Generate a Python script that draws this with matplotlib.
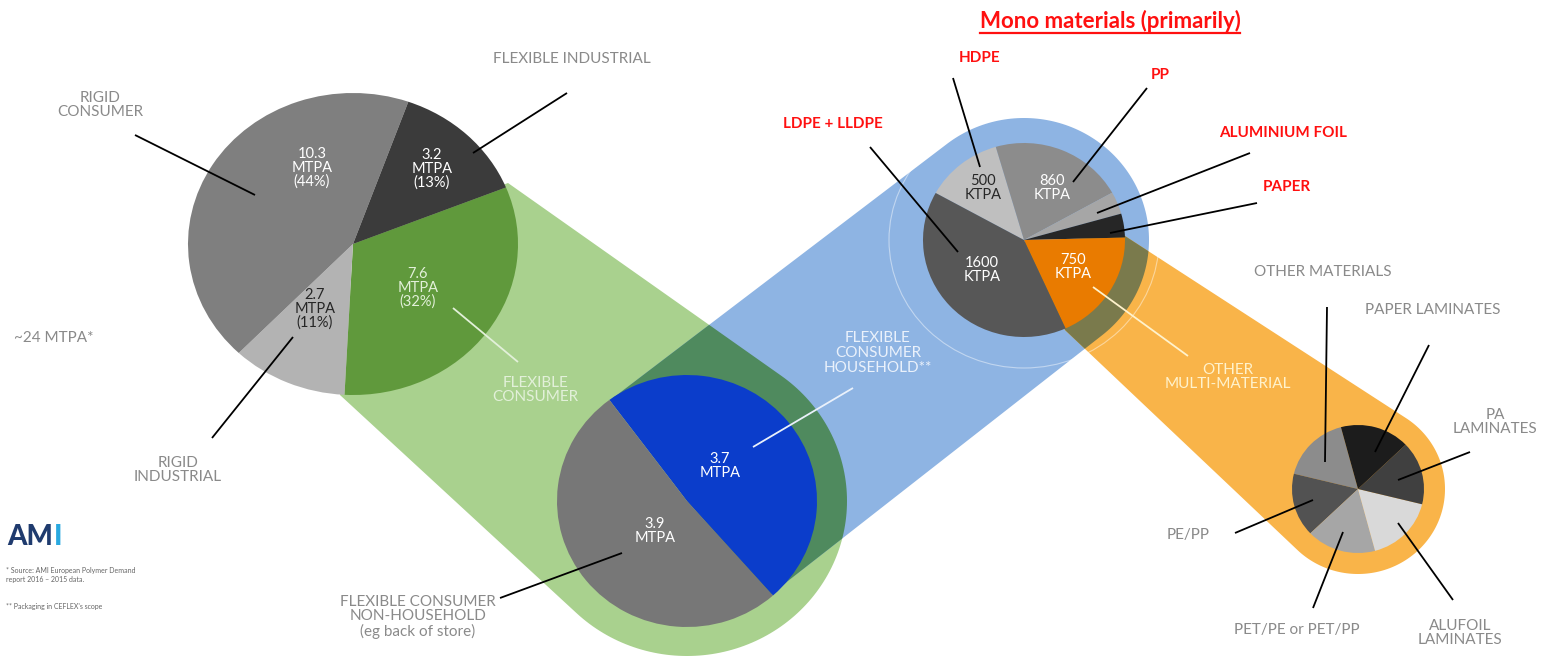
import numpy as np
import matplotlib.pyplot as plt
from matplotlib.patches import Polygon, Ellipse

plt.rcParams['font.family'] = ['Lato', 'DejaVu Sans']

W, H = 1542, 658

# --- data ---
main_names = ['FLEXIBLE\nCONSUMER', 'RIGID\nINDUSTRIAL', 'RIGID\nCONSUMER', 'FLEXIBLE INDUSTRIAL']
main_mtpa = [7.6, 2.7, 10.3, 3.2]
main_pct = [32, 11, 44, 13]

flex_names = ['FLEXIBLE\nCONSUMER\nHOUSEHOLD**', 'FLEXIBLE CONSUMER\nNON-HOUSEHOLD\n(eg back of store)']
flex_mtpa = [3.7, 3.9]

house_names = ['HDPE', 'PP', 'ALUMINIUM FOIL', 'PAPER', 'OTHER\nMULTI-MATERIAL', 'LDPE + LLDPE']
house_ktpa = [500, 860, 150, 160, 750, 1600]

multi_names = ['OTHER MATERIALS', 'PE/PP', 'PET/PE or PET/PP', 'ALUFOIL\nLAMINATES', 'PA\nLAMINATES', 'PAPER LAMINATES']
multi_share = [17, 16, 17, 17, 16, 17]

total_label = '~24 MTPA*'
title = 'Mono materials (primarily)'

GREY_TXT = '#8a8a8a'
RED = '#ff1010'


def hull(points):
    pts = sorted(set((round(x, 3), round(y, 3)) for x, y in points))

    def cross(o, a, b):
        return (a[0] - o[0]) * (b[1] - o[1]) - (a[1] - o[1]) * (b[0] - o[0])
    lower, upper = [], []
    for p in pts:
        while len(lower) >= 2 and cross(lower[-2], lower[-1], p) <= 0:
            lower.pop()
        lower.append(p)
    for p in reversed(pts):
        while len(upper) >= 2 and cross(upper[-2], upper[-1], p) <= 0:
            upper.pop()
        upper.append(p)
    return np.array(lower[:-1] + upper[:-1])


def ellipse_pts(cx, cy, rx, ry, n=240):
    t = np.linspace(0, 2 * np.pi, n, endpoint=False)
    return list(zip(cx + rx * np.cos(t), cy + ry * np.sin(t)))


fig = plt.figure(figsize=(W / 100, H / 100), dpi=100)

# background layer with the connecting bands
bg = fig.add_axes([0, 0, 1, 1])
bg.set_xlim(0, W)
bg.set_ylim(H, 0)
bg.axis('off')

green_pts = [(508, 183), (340, 395), (355, 240)] + ellipse_pts(687, 501, 160, 155)
blue_pts = [(613, 398), (770, 595), (687, 501)] + ellipse_pts(1024, 240, 125, 122)
orange_pts = [(1125, 236), (1065, 330), (1024, 242)] + ellipse_pts(1358, 489, 87, 85)

green = Polygon(hull(green_pts), closed=True, fc='#a9d18e', ec='none', zorder=1)
blue = Polygon(hull(blue_pts), closed=True, fc='#8eb4e3', ec='none', zorder=2)
orange = Polygon(hull(orange_pts), closed=True, fc='#f9b449', ec='none', zorder=3)
for p in (green, blue, orange):
    bg.add_patch(p)
gb = Polygon(hull(blue_pts), closed=True, fc='#4f8a5e', ec='none', zorder=2.5)
bg.add_patch(gb)
gb.set_clip_path(green)
ob = Polygon(hull(orange_pts), closed=True, fc='#7a7a4c', ec='none', zorder=3.5)
bg.add_patch(ob)
ob.set_clip_path(blue)
bg.add_patch(Ellipse((1024, 240), 270, 256, fill=False, ec='white', lw=0.8, alpha=0.45, zorder=4))


def pie_axes(cx, cy, rx, ry):
    a = fig.add_axes([(cx - rx) / W, 1 - (cy + ry) / H, 2 * rx / W, 2 * ry / H])
    return a


def draw_pie(a, vals, colors, start, ccw):
    a.pie(vals, colors=colors, startangle=start, counterclock=ccw, radius=1,
          wedgeprops=dict(linewidth=0))
    a.set_aspect('auto')
    a.set_xlim(-1, 1)
    a.set_ylim(-1, 1)
    a.axis('off')


draw_pie(pie_axes(353, 244, 165, 151), main_mtpa,
         ['#60993c', '#b3b3b3', '#7f7f7f', '#3b3b3b'], 22, False)
draw_pie(pie_axes(687, 501, 130, 126), flex_mtpa, ['#0b3dcb', '#777777'], -48.6, True)
draw_pie(pie_axes(1024, 240, 101, 97), house_ktpa,
         ['#bfbfbf', '#8c8c8c', '#a6a6a6', '#262626', '#e97b00', '#575757'], 151, False)
draw_pie(pie_axes(1358, 489, 66, 64), multi_share,
         ['#8c8c8c', '#525252', '#a6a6a6', '#d9d9d9', '#404040', '#1c1c1c'], 105, True)

# foreground layer for text and leader lines
fg = fig.add_axes([0, 0, 1, 1])
fg.set_xlim(0, W)
fg.set_ylim(H, 0)
fg.axis('off')
fg.patch.set_alpha(0)


def lead(p0, p1, color='black', lw=1.3):
    fg.plot([p0[0], p1[0]], [p0[1], p1[1]], color=color, lw=lw, solid_capstyle='butt')


def txt(x, y, s, color=GREY_TXT, size=11, weight='normal', ls=1.05):
    return fg.text(x, y, s, color=color, fontsize=size, fontweight=weight, ha='center',
                   va='center', linespacing=ls)


# main pie
main_val_pos = [(418, 288), (315, 309), (312, 168), (432, 169)]
main_val_col = ['#e2f0d9', '#262626', 'white', 'white']
for v, p, (x, y), c in zip(main_mtpa, main_pct, main_val_pos, main_val_col):
    txt(x, y, f'{v}\nMTPA\n({p}%)', color=c, size=10.5, ls=1.0)

txt(535, 390, main_names[0], color='#e2f0d9', size=11)
lead((453, 308), (518, 362), color='#e2f0d9')
txt(178, 470, main_names[1])
lead((212, 438), (293, 337))
txt(100, 105, main_names[2])
lead((135, 135), (255, 195))
txt(572, 59, main_names[3])
lead((567, 93), (473, 153))
fg.text(14, 338, total_label, color=GREY_TXT, fontsize=11, va='center', ha='left')

# flexible consumer pie
for v, (x, y) in zip(flex_mtpa, [(720, 466), (655, 531)]):
    txt(x, y, f'{v}\nMTPA', color='white', size=10.5, ls=1.0)
txt(878, 353, flex_names[0], color='#eaf1fb', size=11)
lead((853, 388), (753, 447), color='#eaf1fb')
txt(418, 617, flex_names[1], size=11)
lead((500, 598), (622, 553))

# household pie
for v, (x, y), c in zip([house_ktpa[0], house_ktpa[1], house_ktpa[5], house_ktpa[4]],
                        [(983, 188), (1052, 188), (982, 270), (1073, 267)],
                        ['#262626', 'white', 'white', 'white']):
    txt(x, y, f'{v}\nKTPA', color=c, size=10.5, ls=1.0)

red_pos = [(980, 58), (1160, 75), (1283, 133), (1287, 187), None, (833, 124)]
red_lines = [((953, 78), (980, 167)), ((1147, 88), (1073, 182)), ((1250, 153), (1097, 213)),
             ((1257, 203), (1110, 233)), None, ((870, 147), (958, 252))]
for name, pos, ln in zip(house_names, red_pos, red_lines):
    if pos is None:
        continue
    txt(pos[0], pos[1], name, color=RED, size=11, weight='bold')
    lead(*ln)
txt(1228, 377, house_names[4], color='#fff2cc', size=11)
lead((1093, 287), (1188, 356), color='#fff2cc')

t = fg.text(1110, 21, title, color=RED, fontsize=16, fontweight='bold', ha='center', va='center')

# multi-material pie
multi_pos = [(1323, 272), (1188, 535), (1297, 630), (1460, 633), (1495, 422), (1433, 310)]
multi_lines = [((1327, 307), (1325, 462)), ((1235, 533), (1313, 500)), ((1313, 608), (1343, 532)),
               ((1453, 600), (1398, 523)), ((1470, 452), (1398, 480)), ((1429, 345), (1375, 452))]
for name, (x, y), ln in zip(multi_names, multi_pos, multi_lines):
    txt(x, y, name)
    lead(*ln)

# logo and footnotes
am = fg.text(7, 537, 'AM', color='#1f3b6e', fontsize=20, fontweight='black', va='center', ha='left')
fg.text(6, 575, '* Source: AMI European Polymer Demand\nreport 2016 \u2013 2015 data.',
        color='#666666', fontsize=5, va='center', ha='left', linespacing=1.3)
fg.text(6, 607, "** Packaging in CEFLEX's scope", color='#666666', fontsize=5, va='center', ha='left')

# underline for the title, cyan I after the logo letters
fig.canvas.draw()
inv = fg.transData.inverted()
bb = t.get_window_extent().transformed(inv)
fg.plot([bb.x0, bb.x1], [bb.y0 + 1, bb.y0 + 1], color=RED, lw=1.6)
ab = am.get_window_extent().transformed(inv)
fg.text(ab.x1 + 1, 537, 'I', color='#29a9e0', fontsize=20, fontweight='black', va='center', ha='left')

fig.savefig('out.png', dpi=100)
